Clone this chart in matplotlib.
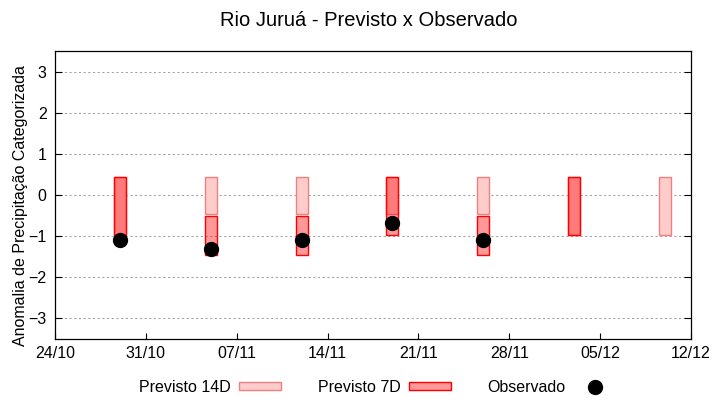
import matplotlib
matplotlib.use('Agg')
import matplotlib.pyplot as plt
import matplotlib.dates as mdates
import numpy as np
from datetime import datetime, timedelta

plt.rcParams['font.family'] = ['Liberation Sans', 'DejaVu Sans']

# dados
datas = ['2023-10-29', '2023-11-05', '2023-11-12', '2023-11-19',
         '2023-11-26', '2023-12-03', '2023-12-10']
p14_inf = [-0.97, -0.45, -0.45, -0.45, -0.45, -0.97, -0.97]
p14_sup = [0.43, 0.43, 0.43, 0.43, 0.43, 0.43, 0.43]
datas_7d = ['2023-10-29', '2023-11-05', '2023-11-12', '2023-11-19',
            '2023-11-26', '2023-12-03']
p7_inf = [-0.97, -1.45, -1.45, -0.97, -1.45, -0.97]
p7_sup = [0.43, -0.52, -0.52, 0.43, -0.52, 0.43]
datas_obs = ['2023-10-29', '2023-11-05', '2023-11-12', '2023-11-19',
             '2023-11-26']
obs = [-1.1, -1.3, -1.1, -0.69, -1.1]
yticks = [-3, -2, -1, 0, 1, 2, 3]

def to_dt(lst):
    return [datetime.strptime(d, '%Y-%m-%d') for d in lst]

x14 = mdates.date2num(to_dt(datas))
x7 = mdates.date2num(to_dt(datas_7d))
xo = mdates.date2num(to_dt(datas_obs))
largura = 0.92
fs = 11.5

fig = plt.figure(figsize=(7.2, 4.0), dpi=100)
ax = fig.add_axes([0.0764, 0.1525, 0.8833, 0.7195])

for y in yticks:
    ax.axhline(y, color='#a0a0a0', lw=0.75, dashes=(2, 2.5), zorder=0)

b14 = ax.bar(x14, np.array(p14_sup) - np.array(p14_inf), bottom=p14_inf, width=largura,
             color='#ffcccc', edgecolor='#f08080', linewidth=1.0, label='Previsto 14D', zorder=2)
b7 = ax.bar(x7, np.array(p7_sup) - np.array(p7_inf), bottom=p7_inf, width=largura,
            color=(1, 0, 0, 0.4), edgecolor='red', linewidth=1.0, label='Previsto 7D', zorder=3)
lo, = ax.plot(xo, obs, 'o', color='black', markersize=10, linestyle='none',
              label='Observado', zorder=4)

x0 = mdates.date2num(datetime(2023, 10, 24))
x1 = mdates.date2num(datetime(2023, 12, 12))
ax.set_xlim(x0, x1)
ax.set_ylim(-3.5, 3.5)
ax.set_xticks([x0 + 7 * i for i in range(8)])
ax.xaxis.set_major_formatter(mdates.DateFormatter('%d/%m'))
ax.set_yticks(yticks)

ax.tick_params(axis='x', direction='in', length=4, width=0.8, pad=5,
               labelsize=fs, top=False)
ax.tick_params(axis='y', direction='in', length=5, width=0.8, pad=6,
               labelsize=fs, right=True)
for s in ax.spines.values():
    s.set_linewidth(0.9)

ax.set_ylabel('Anomalia de Precipitação Categorizada', fontsize=fs, va='center')
ax.yaxis.set_label_coords(-0.055, 0.4635)
fig.text(0.512, 0.95, 'Rio Juruá - Previsto x Observado', fontsize=14.5,
         ha='center', va='center')

fig.legend([b14, b7, lo], ['Previsto 14D', 'Previsto 7D', 'Observado'],
           loc='center', bbox_to_anchor=(0.524, 0.032), ncol=3, frameon=False,
           markerfirst=False, fontsize=fs, handlelength=2.6, handleheight=0.4,
           handletextpad=0.55, columnspacing=2.3)

fig.savefig('out.png', dpi=100)
